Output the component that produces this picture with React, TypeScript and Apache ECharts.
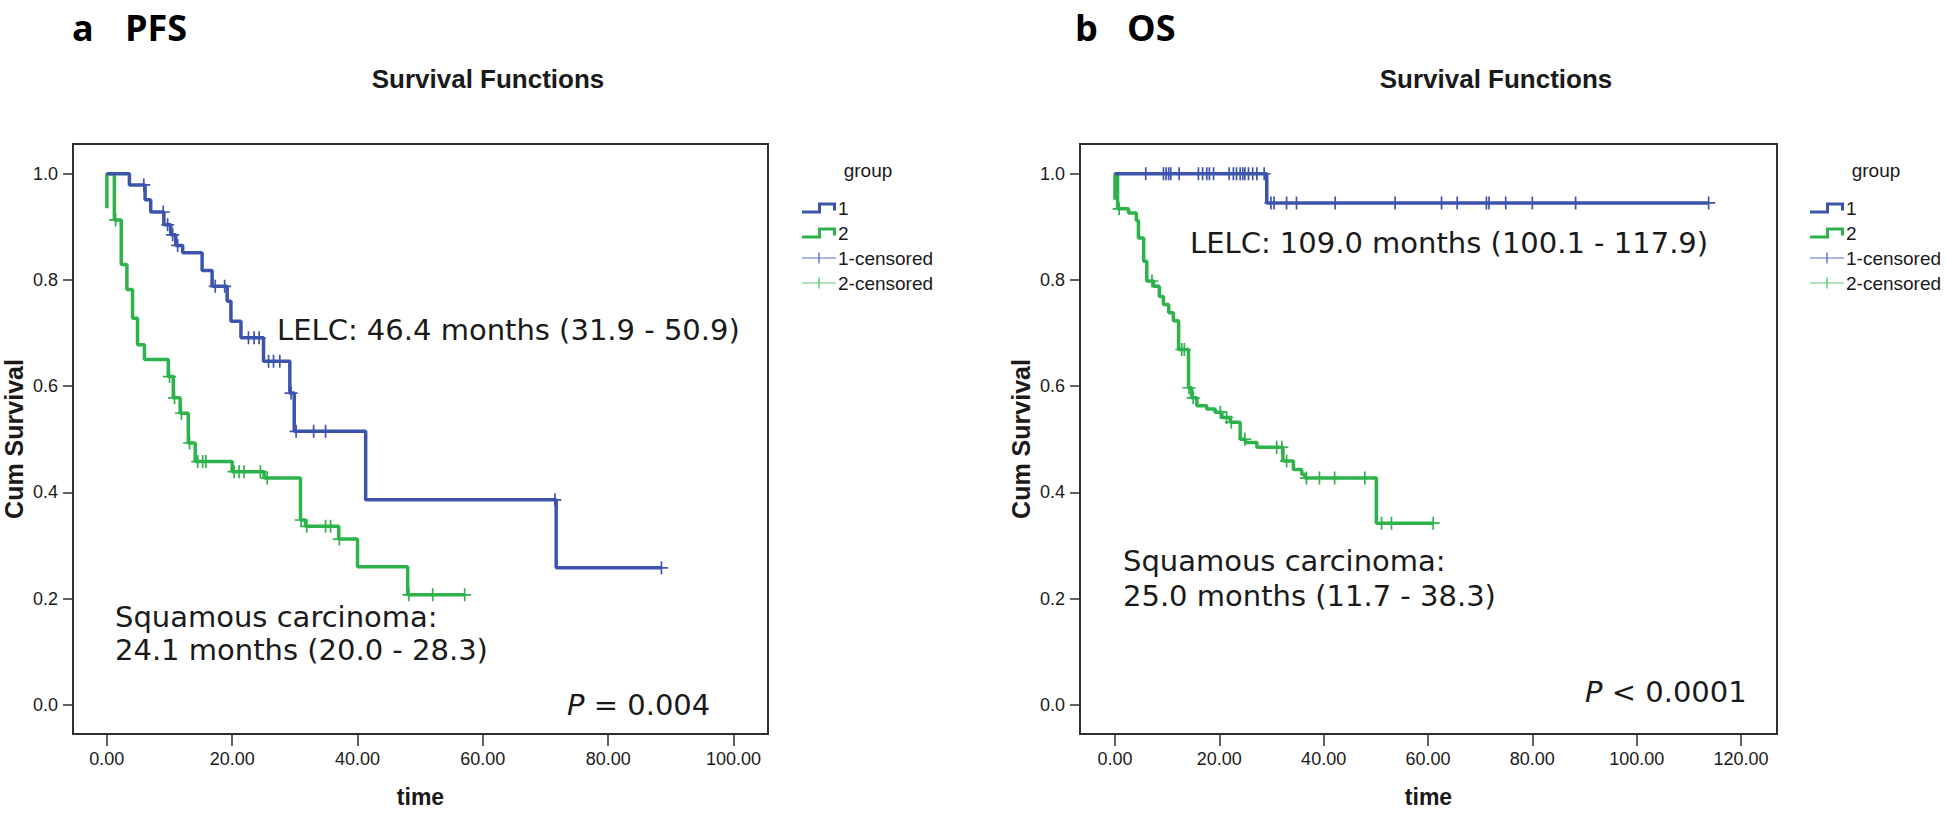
import React, { useEffect, useRef } from 'react';
import * as echarts from 'echarts';

// ---------- Data ----------
const yTicks = [0, 0.2, 0.4, 0.6, 0.8, 1.0];
const pfsXTicks = [0, 20, 40, 60, 80, 100];
const osXTicks = [0, 20, 40, 60, 80, 100, 120];

// PFS, group 1 (LELC): step times and survival after each step
const pfsTime1 = [0, 3.6, 6.1, 7.0, 9.1, 10.2, 11.0, 12.1, 15.2, 16.8, 19.2, 19.8, 21.4, 25.0, 29.2, 29.9, 41.3, 71.7];
const pfsSurv1 = [1.0, 0.979, 0.951, 0.928, 0.904, 0.885, 0.865, 0.851, 0.818, 0.788, 0.760, 0.722, 0.691, 0.647, 0.587, 0.515, 0.386, 0.258];
const pfsCens1 = [5.9, 9.0, 9.7, 10.5, 11.3, 17.3, 18.8, 22.6, 23.5, 24.3, 25.8, 26.6, 27.6, 29.4, 30.2, 33.0, 34.9, 71.5, 88.5];

// PFS, group 2 (squamous)
const pfsTime2 = [0, 0, 1.2, 2.3, 3.2, 4.1, 4.9, 6.0, 9.8, 10.6, 11.7, 13.0, 14.1, 20.0, 25.1, 30.9, 31.7, 37.0, 40.0, 48.0];
const pfsSurv2 = [0.935, 1.0, 0.913, 0.829, 0.782, 0.728, 0.678, 0.650, 0.618, 0.578, 0.549, 0.493, 0.458, 0.439, 0.427, 0.348, 0.336, 0.312, 0.260, 0.207];
const pfsCens2 = [1.4, 10.0, 10.8, 11.9, 13.2, 14.5, 15.3, 15.8, 20.3, 21.1, 21.9, 24.5, 25.6, 31.0, 31.9, 34.9, 35.7, 37.1, 48.2, 52.0, 57.1];

// OS, group 1 (LELC)
const osTime1 = [0, 29.1];
const osSurv1 = [1.0, 0.945];
const osCens1 = [5.9, 9.3, 9.8, 10.3, 10.7, 12.3, 16.0, 16.8, 17.6, 18.1, 18.9, 21.9, 22.7, 23.3, 24.0, 24.5, 24.9, 25.6, 26.4, 27.2, 28.6, 29.9, 30.5, 32.9, 34.8, 42.2, 53.7, 62.6, 65.6, 71.2, 71.7, 74.9, 80.0, 88.3, 113.8];

// OS, group 2 (squamous)
const osTime2 = [0, 0, 0.5, 2.6, 4.1, 4.5, 5.5, 6.1, 7.4, 8.5, 9.3, 10.3, 11.2, 12.2, 14.1, 14.7, 15.7, 17.6, 19.2, 20.5, 22.1, 24.0, 25.0, 27.2, 32.2, 34.2, 35.8, 36.4, 50.1];
const osSurv2 = [0.951, 1.0, 0.934, 0.926, 0.912, 0.879, 0.835, 0.798, 0.788, 0.769, 0.754, 0.738, 0.723, 0.669, 0.597, 0.578, 0.563, 0.557, 0.551, 0.541, 0.532, 0.500, 0.494, 0.485, 0.459, 0.443, 0.434, 0.427, 0.342];
const osCens2 = [0.8, 7.1, 12.8, 13.3, 14.2, 15.0, 20.2, 21.4, 22.3, 24.9, 31.0, 32.0, 32.9, 36.7, 39.2, 42.1, 47.9, 51.1, 53.0, 61.0];

const groupNames = ['1', '2', '1-censored', '2-censored'];

// ---------- Styling ----------
const BLUE = '#3C54AC';
const GREEN = '#2EB24B';
const BLUE_LIGHT = '#5A70C6';
const GREEN_LIGHT = '#5DCB7B';
const FRAME = '#2e2e2e';
const TEXT = '#1a1a1a';
const SANS = "'Liberation Sans', Arial, sans-serif";
const ANNOT = "'DejaVu Sans', Verdana, sans-serif";
const HEAD = "'Open Sans', sans-serif";

const PLUS = 'path://M-0.13,-1 L0.13,-1 L0.13,-0.13 L1,-0.13 L1,0.13 L0.13,0.13 L0.13,1 L-0.13,1 L-0.13,0.13 L-1,0.13 L-1,-0.13 L-0.13,-0.13 Z';
const STEP_ICON = 'path://M0,8 L16,8 L16,0 L34,0 L34,8 L31,8 L31,3 L19,3 L19,11 L0,11 Z';
const CENS_ICON = 'path://M0,4.9 L34,4.9 L34,6.1 L0,6.1 Z M16.3,0 L17.7,0 L17.7,11 L16.3,11 Z';

function survivalAt(times: number[], surv: number[], t: number): number {
  let v = surv[0];
  for (let i = 0; i < times.length; i++) {
    if (times[i] <= t) v = surv[i];
  }
  return v;
}

function stepData(times: number[], surv: number[], cens: number[]) {
  const d = times.map((t, i) => [t, surv[i]]);
  const end = Math.max(times[times.length - 1], ...cens);
  d.push([end, surv[surv.length - 1]]);
  return d;
}

function censData(times: number[], surv: number[], cens: number[]) {
  return cens.map((t) => [t, survivalAt(times, surv, t)]);
}

function makeSeries(idx: number, t1: number[], s1: number[], c1: number[], t2: number[], s2: number[], c2: number[]) {
  const common = { xAxisIndex: idx, yAxisIndex: idx, silent: true };
  return [
    {
      ...common,
      name: groupNames[0],
      type: 'line',
      step: 'end',
      showSymbol: false,
      symbol: 'none',
      lineStyle: { color: BLUE, width: 3.5 },
      itemStyle: { color: BLUE },
      data: stepData(t1, s1, c1),
      z: 3,
    },
    {
      ...common,
      name: groupNames[1],
      type: 'line',
      step: 'end',
      showSymbol: false,
      symbol: 'none',
      lineStyle: { color: GREEN, width: 3.5 },
      itemStyle: { color: GREEN },
      data: stepData(t2, s2, c2),
      z: 2,
    },
    {
      ...common,
      name: groupNames[2],
      type: 'scatter',
      symbol: PLUS,
      symbolSize: 13,
      itemStyle: { color: BLUE, opacity: 1 },
      data: censData(t1, s1, c1),
      z: 4,
    },
    {
      ...common,
      name: groupNames[3],
      type: 'scatter',
      symbol: PLUS,
      symbolSize: 13,
      itemStyle: { color: GREEN, opacity: 1 },
      data: censData(t2, s2, c2),
      z: 4,
    },
  ];
}

function xAxis(idx: number, min: number, max: number, ticks: number[]) {
  return {
    type: 'value',
    gridIndex: idx,
    min,
    max,
    name: 'time',
    nameLocation: 'middle',
    nameGap: 51,
    nameTextStyle: { fontFamily: SANS, fontWeight: 'bold', fontSize: 23, color: TEXT },
    axisLine: { show: true, onZero: false, lineStyle: { color: FRAME, width: 2 } },
    axisTick: { show: true, inside: false, length: 12, customValues: ticks, lineStyle: { color: FRAME, width: 1.5 } },
    axisLabel: {
      show: true,
      customValues: ticks,
      margin: 16,
      fontFamily: SANS,
      fontSize: 18,
      color: TEXT,
      formatter: (v: number) => v.toFixed(2),
    },
    splitLine: { show: false },
  };
}

function yAxis(idx: number) {
  return {
    type: 'value',
    gridIndex: idx,
    min: -0.055,
    max: 1.056,
    name: 'Cum Survival',
    nameLocation: 'middle',
    nameGap: 47,
    nameTextStyle: { fontFamily: SANS, fontWeight: 'bold', fontSize: 25, color: TEXT },
    axisLine: { show: true, onZero: false, lineStyle: { color: FRAME, width: 2 } },
    axisTick: { show: true, inside: false, length: 10, customValues: yTicks, lineStyle: { color: FRAME, width: 1.5 } },
    axisLabel: {
      show: true,
      customValues: yTicks,
      margin: 15,
      fontFamily: SANS,
      fontSize: 18,
      color: TEXT,
      formatter: (v: number) => v.toFixed(1),
    },
    splitLine: { show: false },
  };
}

function legendOf(left: number) {
  return {
    left,
    top: 198,
    orient: 'vertical',
    padding: 0,
    itemWidth: 34,
    itemHeight: 11,
    itemGap: 5,
    selectedMode: false,
    textStyle: { fontFamily: SANS, fontSize: 19, lineHeight: 20, color: TEXT, padding: [0, 0, 0, -3] },
    data: [
      { name: groupNames[0], icon: STEP_ICON, itemStyle: { color: BLUE, borderWidth: 0 } },
      { name: groupNames[1], icon: STEP_ICON, itemStyle: { color: GREEN, borderWidth: 0 } },
      { name: groupNames[2], icon: CENS_ICON, itemStyle: { color: BLUE_LIGHT, borderWidth: 0 } },
      { name: groupNames[3], icon: CENS_ICON, itemStyle: { color: GREEN_LIGHT, borderWidth: 0 } },
    ],
  };
}

function txt(x: number, y: number, text: string, o: any = {}) {
  const align = o.align || 'left';
  const va = o.verticalAlign || 'middle';
  return {
    type: 'text',
    x,
    y,
    silent: true,
    style: {
      text,
      fill: o.fill || TEXT,
      fontSize: o.fontSize || 29,
      fontFamily: o.fontFamily || ANNOT,
      fontWeight: o.fontWeight || 'normal',
      lineHeight: o.lineHeight,
      align,
      verticalAlign: va,
      textAlign: align,
      textVerticalAlign: va,
      rich: o.rich,
    },
  };
}

const italicRich = { i: { fontStyle: 'italic', fontSize: 29, fontFamily: ANNOT, fill: TEXT } };
const headOpts = { fontSize: 36, fontWeight: 'bold', fontFamily: HEAD, fill: '#000', lineHeight: 40 };

export default function App() {
  const ref = useRef<HTMLDivElement>(null);

  useEffect(() => {
    if (!ref.current) return;
    const chart = echarts.init(ref.current, undefined, { renderer: 'svg' });
    const option: any = {
      animation: false,
      backgroundColor: '#ffffff',
      textStyle: { fontFamily: SANS },
      grid: [
        { left: 72, top: 144, width: 696, height: 590, show: true, borderColor: FRAME, borderWidth: 2, containLabel: false },
        { left: 1080, top: 144, width: 697, height: 590, show: true, borderColor: FRAME, borderWidth: 2, containLabel: false },
      ],
      xAxis: [xAxis(0, -5.4, 105.5, pfsXTicks), xAxis(1, -6.7, 126.9, osXTicks)],
      yAxis: [yAxis(0), yAxis(1)],
      legend: [legendOf(802), legendOf(1810)],
      series: [
        ...makeSeries(0, pfsTime1, pfsSurv1, pfsCens1, pfsTime2, pfsSurv2, pfsCens2),
        ...makeSeries(1, osTime1, osSurv1, osCens1, osTime2, osSurv2, osCens2),
      ],
      graphic: {
        elements: [
          // panel letters
          txt(72, 27, 'a', headOpts),
          txt(125, 27, 'PFS', headOpts),
          txt(1075, 27, 'b', headOpts),
          txt(1127, 27, 'OS', headOpts),
          // titles
          txt(488, 79, 'Survival Functions', { align: 'center', fontSize: 26, fontWeight: 'bold', fontFamily: SANS }),
          txt(1496, 79, 'Survival Functions', { align: 'center', fontSize: 26, fontWeight: 'bold', fontFamily: SANS }),
          // legend titles
          txt(868, 170, 'group', { align: 'center', fontSize: 19, fontFamily: SANS }),
          txt(1876, 170, 'group', { align: 'center', fontSize: 19, fontFamily: SANS }),
          // PFS annotations
          txt(277, 330, 'LELC: 46.4 months (31.9 - 50.9)'),
          txt(115, 633, 'Squamous carcinoma:\n24.1 months (20.0 - 28.3)', { lineHeight: 33 }),
          txt(567, 705, '{i|P} = 0.004', { rich: italicRich }),
          // OS annotations
          txt(1190, 243, 'LELC: 109.0 months (100.1 - 117.9)'),
          txt(1123, 578, 'Squamous carcinoma:\n25.0 months (11.7 - 38.3)', { lineHeight: 35 }),
          txt(1585, 692, '{i|P} < 0.0001', { rich: italicRich }),
        ],
      },
    };
    chart.setOption(option);
    return () => {
      chart.dispose();
    };
  }, []);

  return (
    <div
      ref={ref}
      style={{ position: 'fixed', left: 0, top: 0, width: 1946, height: 814, background: '#fff' }}
    />
  );
}
